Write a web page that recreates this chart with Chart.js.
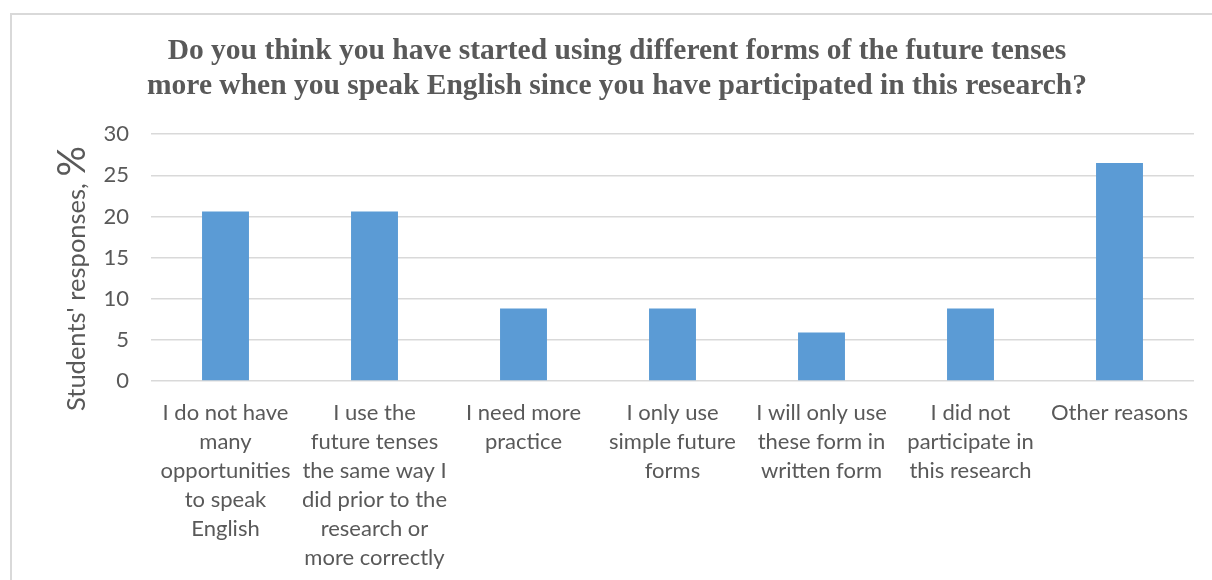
<!DOCTYPE html>
<html>
<head>
<meta charset="utf-8">
<script src="https://cdn.jsdelivr.net/npm/chart.js@4"></script>
<style>
  html, body { margin: 0; padding: 0; background: #fff; }
  canvas { display: block; }
</style>
</head>
<body>
<canvas id="myChart" width="1212" height="580"></canvas>
<script>
// Survey answers, split into the lines shown under each bar
var categories = [
  ['I do not have', 'many', 'opportunities', 'to speak', 'English'],
  ['I use the', 'future tenses', 'the same way I', 'did prior to the', 'research or', 'more correctly'],
  ['I need more', 'practice'],
  ['I only use', 'simple future', 'forms'],
  ['I will only use', 'these form in', 'written form'],
  ['I did not', 'participate in', 'this research'],
  ['Other reasons']
];
// share of students, %
var responses = [20.6, 20.6, 8.8, 8.8, 5.9, 8.8, 26.5];
var yTicks = [0, 5, 10, 15, 20, 25, 30];
var titleLines = [
  'Do you think you have started using different forms of the future tenses',
  'more when you speak English since you have participated in this research?'
];
var yTitle = "Students' responses, ";
var yTitleUnit = '%';

var textColor = '#595959';
var gridColor = '#D9D9D9';

// light frame around the chart + rotated axis title with a bigger % sign
var framePlugin = {
  id: 'frame',
  beforeDraw: function(chart) {
    var ctx = chart.ctx;
    ctx.save();
    ctx.strokeStyle = gridColor;
    ctx.lineWidth = 2;
    ctx.beginPath();
    ctx.moveTo(11, 580);
    ctx.lineTo(11, 14);
    ctx.lineTo(1212, 14);
    ctx.stroke();
    ctx.restore();
  },
  afterDraw: function(chart) {
    var ctx = chart.ctx;
    ctx.save();
    ctx.translate(85, 411);
    ctx.rotate(-Math.PI / 2);
    ctx.fillStyle = textColor;
    ctx.textBaseline = 'alphabetic';
    ctx.textAlign = 'left';
    ctx.font = '25.5px Lato';
    ctx.fillText(yTitle, 0, 0);
    var w = ctx.measureText(yTitle).width;
    ctx.font = '38px Lato';
    ctx.fillText(yTitleUnit, w, 0);
    ctx.restore();
  }
};

var ctx = document.getElementById('myChart').getContext('2d');
var myChart = new Chart(ctx, {
  type: 'bar',
  data: {
    labels: categories,
    datasets: [{
      label: 'Responses',
      data: responses,
      backgroundColor: '#5B9BD5',
      borderWidth: 0,
      categoryPercentage: 1,
      barPercentage: 0.315
    }]
  },
  options: {
    responsive: false,
    animation: false,
    events: [],
    layout: {
      padding: { left: 40, right: 18, top: 0, bottom: 0 }
    },
    plugins: {
      legend: { display: false },
      tooltip: { enabled: false },
      title: {
        display: true,
        text: titleLines,
        color: textColor,
        font: { family: '"Liberation Serif", "Times New Roman", serif', size: 29.5, weight: 'bold', lineHeight: 1.19 },
        padding: { top: 34, bottom: 30 }
      }
    },
    scales: {
      x: {
        grid: { display: false },
        border: { display: false },
        ticks: {
          color: textColor,
          font: { family: 'Lato', size: 22, lineHeight: 1.32 },
          padding: 9,
          maxRotation: 0,
          autoSkip: false
        },
        afterFit: function(scale) { scale.height = 199; }
      },
      y: {
        min: 0,
        max: 30,
        border: { display: false },
        grid: { color: gridColor, lineWidth: 1.5, drawTicks: false },
        afterBuildTicks: function(scale) {
          scale.ticks = yTicks.map(function(v) { return { value: v }; });
        },
        ticks: {
          color: textColor,
          font: { family: 'Lato', size: 22 },
          padding: 22
        },
        afterFit: function(scale) { scale.width = 111; }
      }
    }
  },
  plugins: [framePlugin]
});
</script>
</body>
</html>
